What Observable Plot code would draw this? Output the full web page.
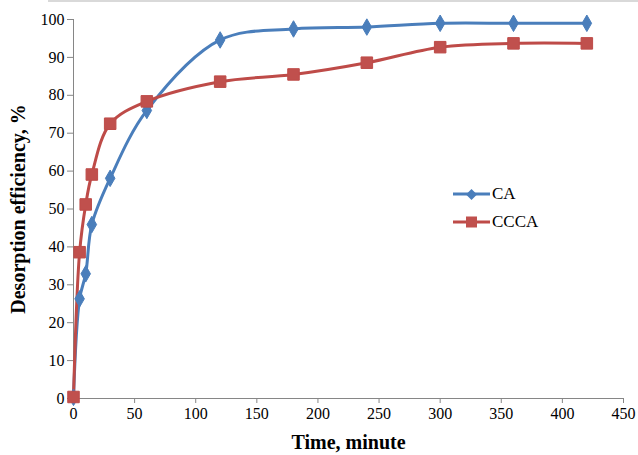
<!DOCTYPE html>
<html>
<head>
<meta charset="utf-8">
<script src="https://cdn.jsdelivr.net/npm/d3@7"></script>
<script src="https://cdn.jsdelivr.net/npm/@observablehq/plot@0.6"></script>
<style>
  html, body { margin: 0; padding: 0; background: #fff; }
  #wrap { position: relative; width: 638px; height: 455px; overflow: hidden; }
  #topline { position: absolute; left: 48px; right: 0; top: 0; height: 2px; background: #d9d9d9; }
  #legend { position: absolute; left: 452px; top: 180px; font-family: "Liberation Serif", "Times New Roman", serif; font-size: 17px; color: #000; }
  .item { display: flex; align-items: center; height: 28px; }
  .item svg { margin-right: 2px; }
</style>
</head>
<body>
<div id="wrap"><div id="topline"></div><div id="legend"></div></div>
<script>
const times = [0, 5, 10, 15, 30, 60, 120, 180, 240, 300, 360, 420];
const caValues = [0.3, 26.3, 32.9, 45.9, 58.1, 76.0, 94.6, 97.5, 98.0, 99.0, 99.0, 99.0];
const cccaValues = [0.4, 38.6, 51.2, 59.1, 72.5, 78.4, 83.6, 85.5, 88.6, 92.7, 93.7, 93.7];
const seriesNames = ["CA", "CCCA"];
const seriesColors = ["#4A7EBB", "#BE4B48"];
const xTicks = [0, 50, 100, 150, 200, 250, 300, 350, 400, 450];
const yTicks = [0, 10, 20, 30, 40, 50, 60, 70, 80, 90, 100];

const ca = times.map((t, i) => ({time: t, value: caValues[i], series: "CA"}));
const ccca = times.map((t, i) => ({time: t, value: cccaValues[i], series: "CCCA"}));

const font = "Liberation Serif, Times New Roman, serif";
const axisColor = "#868686";

const chart = Plot.plot({
  width: 638,
  height: 455,
  marginLeft: 73,
  marginRight: 15,
  marginTop: 19,
  marginBottom: 57,
  style: {fontFamily: font, fontSize: "16px", color: "#000", background: "transparent", overflow: "visible"},
  x: {domain: [0, 450]},
  y: {domain: [0, 100]},
  marks: [
    Plot.axisX({ticks: xTicks, tickSize: 5, tickPadding: 4, stroke: axisColor, label: null, fontSize: 16, fill: "#000"}),
    Plot.axisY({ticks: yTicks, tickSize: 6, tickPadding: 3, stroke: axisColor, label: null, fontSize: 16, fill: "#000"}),
    Plot.ruleY([0], {stroke: axisColor}),
    Plot.ruleX([0], {stroke: axisColor}),
    Plot.line(ca, {x: "time", y: "value", stroke: seriesColors[0], strokeWidth: 3, curve: "catmull-rom"}),
    Plot.line(ccca, {x: "time", y: "value", stroke: seriesColors[1], strokeWidth: 3, curve: "catmull-rom"}),
    Plot.dot(ca, {x: "time", y: "value", symbol: "diamond", r: 5, fill: seriesColors[0], stroke: seriesColors[0], strokeWidth: 1}),
    Plot.dot(ccca, {x: "time", y: "value", symbol: "square", r: 6.5, fill: "#C0504D", stroke: "#BE4B48", strokeWidth: 1}),
    Plot.text(["Time, minute"], {frameAnchor: "bottom", textAnchor: "middle", dy: 50, fontWeight: "bold", fontSize: 20, fill: "#000"}),
    Plot.text(["Desorption efficiency, %"], {frameAnchor: "left", textAnchor: "middle", dx: -55, rotate: -90, fontWeight: "bold", fontSize: 20, fill: "#000"})
  ]
});
document.getElementById("wrap").prepend(chart);

const legend = document.getElementById("legend");
seriesNames.forEach((name, i) => {
  const item = document.createElement("div");
  item.className = "item";
  const marker = i === 0
    ? `<path d="M19.5 13 L25 18.5 L19.5 24 L14 18.5 Z" fill="${seriesColors[0]}" transform="translate(0,-5)"/>`
    : `<rect x="14" y="7.5" width="11" height="11" fill="#C0504D"/>`;
  item.innerHTML = `<svg width="38" height="26"><line x1="1" x2="38" y1="13" y2="13" stroke="${seriesColors[i]}" stroke-width="3"/>${marker}</svg><span>${name}</span>`;
  legend.appendChild(item);
});
</script>
</body>
</html>
